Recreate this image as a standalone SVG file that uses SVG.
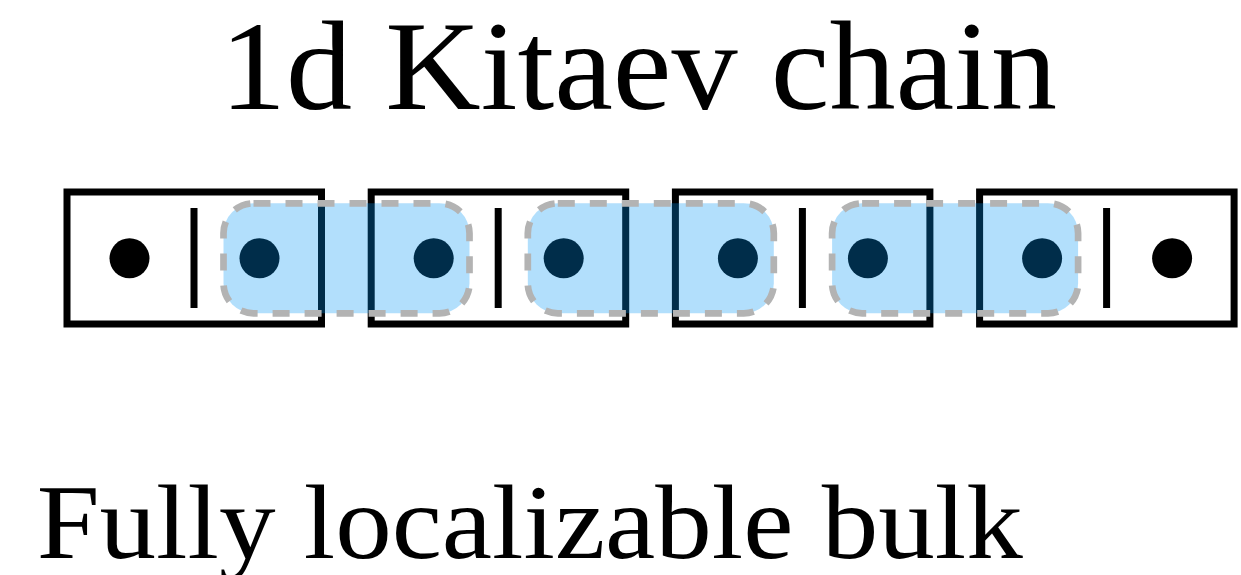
<svg xmlns="http://www.w3.org/2000/svg" width="1241" height="575" viewBox="0 0 1241 575">
<style>
.box{fill:none;stroke:#000;stroke-width:7}
.bar{fill:#000}
.dot{fill:#000}
.pill{fill:rgb(0,150,245);fill-opacity:0.3;stroke:#b3b3b3;stroke-width:6.7;stroke-dasharray:17 15}
.t{font-family:"Liberation Serif","DejaVu Serif",serif;fill:#000}
</style>
<rect width="1241" height="575" fill="#fff"/>
<text class="t" x="220" y="109" font-size="126" textLength="837" lengthAdjust="spacingAndGlyphs">1d Kitaev chain</text>
<g id="site1">
<rect class="box" x="67" y="192" width="254.5" height="132"/>
<circle class="dot" cx="129.5" cy="258.3" r="20"/>
<rect class="bar" x="190.5" y="208" width="7" height="100"/>
<circle class="dot" cx="259.5" cy="258.3" r="20"/>
</g>
<g id="site2">
<rect class="box" x="371.2" y="192" width="254.5" height="132"/>
<circle class="dot" cx="433.7" cy="258.3" r="20"/>
<rect class="bar" x="494.7" y="208" width="7" height="100"/>
<circle class="dot" cx="563.7" cy="258.3" r="20"/>
</g>
<g id="site3">
<rect class="box" x="675.4" y="192" width="254.5" height="132"/>
<circle class="dot" cx="737.9" cy="258.3" r="20"/>
<rect class="bar" x="798.9" y="208" width="7" height="100"/>
<circle class="dot" cx="867.9" cy="258.3" r="20"/>
</g>
<g id="site4">
<rect class="box" x="979.6" y="192" width="254.5" height="132"/>
<circle class="dot" cx="1042.1" cy="258.3" r="20"/>
<rect class="bar" x="1103.1" y="208" width="7" height="100"/>
<circle class="dot" cx="1172.1" cy="258.3" r="20"/>
</g>
<g id="pairings">
<rect class="pill" x="223.5" y="203.3" width="246" height="110" rx="30" ry="30"/>
<rect class="pill" x="527.8" y="203.3" width="246" height="110" rx="30" ry="30"/>
<rect class="pill" x="832.1" y="203.3" width="246" height="110" rx="30" ry="30"/>
</g>
<text class="t" x="36.7" y="558" font-size="105" textLength="986" lengthAdjust="spacingAndGlyphs">Fully localizable bulk</text>
</svg>
